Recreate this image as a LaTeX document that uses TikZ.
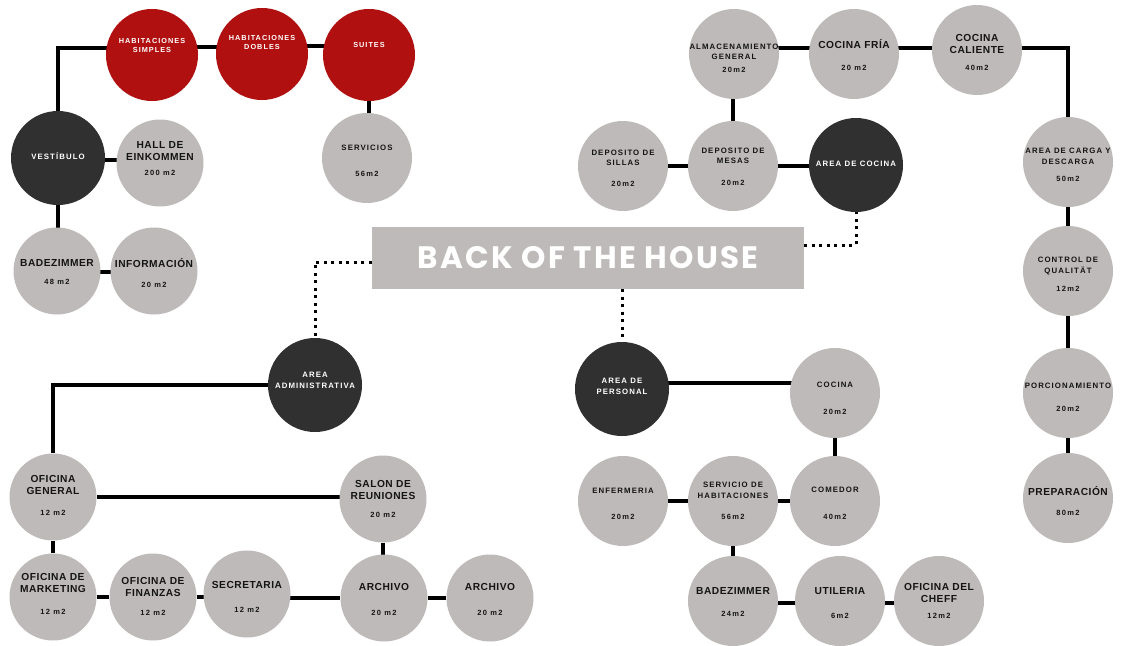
\documentclass[tikz,border=0pt]{standalone}
\usepackage{fontspec}
\setmainfont{Liberation Sans}
\newfontfamily\labfont[LetterSpace=14]{Liberation Sans}
\newfontfamily\areafont[LetterSpace=18]{Liberation Sans}
\newfontfamily\bigfont[LetterSpace=5]{Liberation Sans}
\newfontfamily\titfont[LetterSpace=7]{Poppins}
\usetikzlibrary{calc,backgrounds}
\definecolor{roomgrey}{RGB}{190,186,185}
\definecolor{hubdark}{RGB}{48,48,48}
\definecolor{roomred}{RGB}{176,16,16}
\definecolor{inktxt}{RGB}{20,20,20}
\newcommand\placeroom[9]{%
  \node[#4] (#1) at (#2,#3) {};
  \node[#5] (#1t) at (#2,#7) {#6};
  \ifx\relax#8\relax\else\node[txtarea] (#1a) at (#2,#9) {#8};\fi}
\tikzset{
  room/.style={circle,fill=roomgrey,minimum size=90pt,inner sep=0pt},
  roomsm/.style={room,minimum size=87pt},
  hub/.style={circle,fill=hubdark,minimum size=94pt,inner sep=0pt},
  redroom/.style={circle,fill=roomred,minimum size=92pt,inner sep=0pt},
  txtsmall/.style={font=\labfont\bfseries\fontsize{7.8}{10.5}\selectfont,align=center,inner sep=0pt,text=inktxt},
  txtwhite/.style={txtsmall,text=white},
  txtred/.style={font=\labfont\bfseries\fontsize{7.3}{9}\selectfont,align=center,inner sep=0pt,text=white},
  txtbig/.style={font=\bigfont\bfseries\fontsize{10.2}{12}\selectfont,align=center,inner sep=0pt,text=inktxt},
  txtarea/.style={font=\areafont\bfseries\fontsize{7.5}{8}\selectfont,inner sep=0pt,text=inktxt},
  conn/.style={line width=3.2pt,black},
  dotconn/.style={line width=3pt,black,dash pattern=on 3pt off 4.5pt},
  titlebox/.style={fill=roomgrey,minimum width=432pt,minimum height=62pt,inner sep=0pt,
    text=white,font=\titfont\bfseries\fontsize{31}{33}\selectfont}
}
\begin{document}
\begin{tikzpicture}[x=1pt,y=-1pt]
\useasboundingbox (0,0) rectangle (1121,645);
% ---- left upper group
\placeroom{hsim}{152}{55}{redroom}{txtred}{HABITACIONES\\SIMPLES}{45.5}{}{0}
\placeroom{hdob}{262}{54}{redroom}{txtred}{HABITACIONES\\DOBLES}{42.5}{}{0}
\placeroom{suites}{369}{55}{redroom}{txtred}{SUITES}{45}{}{0}
\placeroom{vest}{58}{158}{hub}{txtwhite}{VESTÍBULO}{156}{}{0}
\placeroom{hall}{160}{163}{roomsm}{txtbig}{HALL DE\\EINKOMMEN}{151}{200 m2}{173}
\placeroom{serv}{367}{158}{room}{txtsmall}{SERVICIOS}{148}{56m2}{174}
\placeroom{bada}{57}{271}{roomsm}{txtbig}{BADEZIMMER}{263}{48 m2}{282}
\placeroom{info}{154}{271}{roomsm}{txtbig}{INFORMACIÓN}{263}{20 m2}{285}
% ---- administration
\placeroom{admin}{315}{385}{hub}{txtwhite}{AREA\\ADMINISTRATIVA}{380.5}{}{0}
\placeroom{ofgen}{53}{497}{roomsm}{txtbig}{OFICINA\\GENERAL}{485}{12 m2}{513}
\placeroom{salon}{383}{499}{roomsm}{txtbig}{SALON DE\\REUNIONES}{489.5}{20 m2}{515}
\placeroom{mkt}{53}{597}{roomsm}{txtbig}{OFICINA DE\\MARKETING}{583}{12 m2}{612}
\placeroom{fin}{153}{597}{roomsm}{txtbig}{OFICINA DE\\FINANZAS}{587}{12 m2}{613}
\placeroom{secr}{247}{594}{roomsm}{txtbig}{SECRETARIA}{585}{12 m2}{610}
\placeroom{archa}{384}{598}{roomsm}{txtbig}{ARCHIVO}{587}{20 m2}{613}
\placeroom{archb}{490}{598}{roomsm}{txtbig}{ARCHIVO}{587}{20 m2}{613}
% ---- title
\node[titlebox] (box) at (588,258) {BACK OF THE HOUSE};
% ---- staff
\placeroom{pers}{622}{389}{hub}{txtwhite}{AREA DE\\PERSONAL}{386.5}{}{0}
\placeroom{cocina}{835}{393}{room}{txtsmall}{COCINA}{385}{20m2}{412}
\placeroom{comedor}{835}{501}{room}{txtsmall}{COMEDOR}{490}{40m2}{517}
\placeroom{shab}{733}{501}{room}{txtsmall}{SERVICIO DE\\HABITACIONES}{490.5}{56m2}{517}
\placeroom{enf}{623}{501}{room}{txtsmall}{ENFERMERIA}{491}{20m2}{517}
\placeroom{badb}{733}{601}{room}{txtbig}{BADEZIMMER}{591}{24m2}{614}
\placeroom{util}{840}{601}{room}{txtbig}{UTILERIA}{591}{6m2}{616}
\placeroom{cheff}{939}{601}{room}{txtbig}{OFICINA DEL\\CHEFF}{593}{12m2}{616}
% ---- kitchen
\placeroom{cocd}{856}{165}{hub}{txtwhite}{AREA DE COCINA}{164}{}{0}
\placeroom{alm}{734}{54}{room}{txtsmall}{ALMACENAMIENTO\\GENERAL}{52}{20m2}{70}
\placeroom{fria}{854}{54}{room}{txtbig}{COCINA FRÍA}{44}{20 m2}{68}
\placeroom{cal}{977}{50}{room}{txtbig}{COCINA\\CALIENTE}{44}{40m2}{68}
\placeroom{sillas}{623}{166}{room}{txtsmall}{DEPOSITO DE\\SILLAS}{158}{20m2}{184}
\placeroom{mesas}{733}{166}{room}{txtsmall}{DEPOSITO DE\\MESAS}{156}{20m2}{183}
\placeroom{carga}{1068}{162}{room}{txtsmall}{AREA DE CARGA Y\\DESCARGA}{156.5}{50m2}{179}
\placeroom{ctrl}{1068}{271}{room}{txtsmall}{CONTROL DE\\QUALITÄT}{266}{12m2}{289}
\placeroom{porc}{1068}{393}{room}{txtsmall}{PORCIONAMIENTO}{386}{20m2}{409}
\placeroom{prep}{1068}{498}{room}{txtbig}{PREPARACIÓN}{491}{80m2}{513}
% ---- connectors
\begin{scope}[on background layer]
\fill[white] (0,0) rectangle (1121,645);
\draw[conn] (vest) |- ($(hsim)+(0,-7)$);
\draw[conn] ($(hsim)+(0,-8)$) -- ($(hdob)+(0,-7)$);
\draw[conn] ($(hdob)+(0,-8)$) -- ($(suites)+(0,-9)$);
\draw[conn] (suites) -- (suites |- serv);
\draw[conn] ($(vest)+(0,2)$) -- ($(hall)+(0,-3)$);
\draw[conn] (vest) -- (vest |- bada);
\draw[conn] ($(bada)+(0,1)$) -- ($(info)+(0,1)$);
\draw[dotconn] ($(box.west)+(0,4)$) -| (admin);
\draw[conn] (admin) -| (ofgen);
\draw[conn] (ofgen) -- (ofgen -| salon);
\draw[conn] (ofgen) -- (mkt);
\draw[conn] (salon) -- (salon |- archa);
\draw[conn] (mkt) -- (fin);
\draw[conn] (fin) -- (fin -| secr);
\draw[conn] ($(secr)+(0,4)$) -- (archa);
\draw[conn] (archa) -- (archb);
\draw[dotconn] (box.south -| pers) -- (pers);
\draw[dotconn] ($(box.east)+(0,-13)$) -| (cocd);
\draw[conn] (mesas) -- (mesas -| cocd);
\draw[conn] (sillas) -- (sillas -| mesas);
\draw[conn] (mesas) -- (mesas |- alm);
\draw[conn] ($(alm)+(0,-6)$) -- ($(fria)+(0,-6)$);
\draw[conn] ($(fria)+(0,-6)$) -- ($(cal)+(0,-2)$);
\draw[conn] ($(cal)+(0,-2)$) -| (carga);
\draw[conn] (carga) -- (ctrl);
\draw[conn] (ctrl) -- (porc);
\draw[conn] (porc) -- (prep);
\draw[conn] ($(pers)+(0,-6)$) -- ($(cocina)+(0,-10)$);
\draw[conn] (cocina) -- (comedor);
\draw[conn] (shab) -- (comedor);
\draw[conn] (enf) -- (shab);
\draw[conn] (shab) -- (badb);
\draw[conn] ($(badb)+(0,2)$) -- ($(util)+(0,2)$);
\draw[conn] ($(util)+(0,2)$) -- ($(cheff)+(0,2)$);
\end{scope}
\end{tikzpicture}
\end{document}
